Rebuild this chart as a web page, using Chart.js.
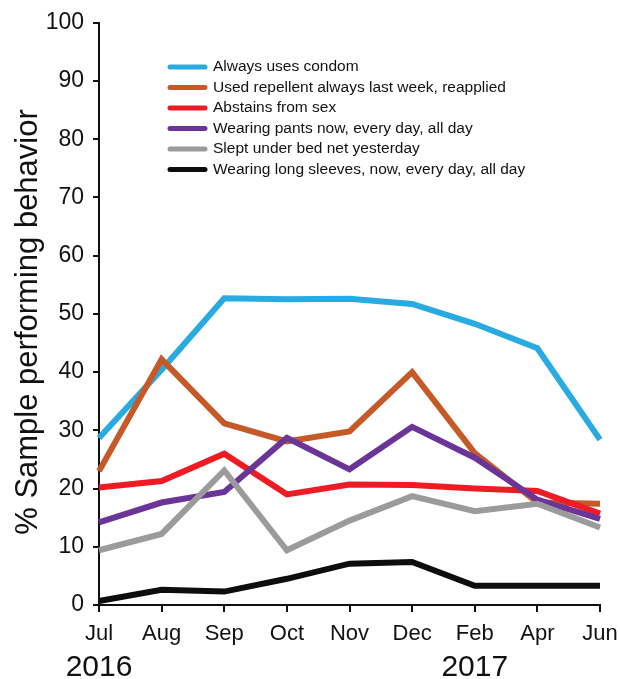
<!DOCTYPE html>
<html>
<head>
<meta charset="utf-8">
<script src="https://cdn.jsdelivr.net/npm/chart.js@4"></script>
<style>
    body { margin: 0; background: #fff; }
    #wrap { width: 620px; height: 679px; position: relative; }
</style>
</head>
<body>
<div id="wrap"><canvas id="behaviorChart"></canvas></div>
<script>
const months = ["Jul", "Aug", "Sep", "Oct", "Nov", "Dec", "Feb", "Apr", "Jun"];
const yearLabels = ["2016", "2017"];
const yearAt = ["Jul", "Feb"];
const yTitle = "% Sample performing behavior";

const seriesNames = [
    "Always uses condom",
    "Used repellent always last week, reapplied",
    "Abstains from sex",
    "Wearing pants now, every day, all day",
    "Slept under bed net yesterday",
    "Wearing long sleeves, now, every day, all day"
];
const condom    = [28.7, 40.4, 52.7, 52.5, 52.6, 51.7, 48.3, 44.1, 28.4];
const repellent = [23.0, 42.2, 31.2, 28.1, 29.8, 40.0, 26.1, 17.6, 17.4];
const abstains  = [20.2, 21.3, 26.0, 19.0, 20.7, 20.6, 20.0, 19.6, 15.7];
const pants     = [14.2, 17.6, 19.4, 28.7, 23.3, 30.6, 25.3, 18.1, 14.8];
const bedNet    = [9.4, 12.2, 23.1, 9.4, 14.5, 18.7, 16.1, 17.4, 13.3];
const sleeves   = [0.7, 2.6, 2.3, 4.5, 7.1, 7.4, 3.3, 3.3, 3.3];
const seriesColors = ["#29ABE2", "#C55A28", "#ED1C24", "#6A3597", "#9B9B9B", "#0D0D0D"];

const FONT = "'Liberation Sans', Arial, sans-serif";
const allSeries = [condom, repellent, abstains, pants, bedNet, sleeves];

// draw later series on top, like the original
const datasets = allSeries.map(function (values, i) {
    return {
        label: seriesNames[i],
        data: values,
        borderColor: seriesColors[i],
        backgroundColor: seriesColors[i],
        borderWidth: 6,
        pointRadius: 0,
        tension: 0,
        fill: false,
        order: allSeries.length - i
    };
});

const extras = {
    id: "extras",
    afterDraw(chart) {
        const ctx = chart.ctx;
        const x = chart.scales.x;
        ctx.save();

        // y axis title, a bit below the middle as in the source
        ctx.fillStyle = "#111";
        ctx.font = "31px " + FONT;
        ctx.textAlign = "center";
        ctx.textBaseline = "middle";
        ctx.save();
        ctx.translate(28, 322);
        ctx.rotate(-Math.PI / 2);
        ctx.fillText(yTitle, 0, 0);
        ctx.restore();

        // year labels under the month ticks
        ctx.font = "30px " + FONT;
        ctx.textBaseline = "alphabetic";
        yearLabels.forEach(function (txt, i) {
            const px = x.getPixelForValue(months.indexOf(yearAt[i]));
            ctx.fillText(txt, px, 676);
        });

        // legend inside the plot
        ctx.font = "15.5px " + FONT;
        ctx.textAlign = "left";
        ctx.textBaseline = "middle";
        ctx.lineCap = "round";
        seriesNames.forEach(function (name, i) {
            const y = 67 + i * 20.5;
            ctx.strokeStyle = seriesColors[i];
            ctx.lineWidth = 5;
            ctx.beginPath();
            ctx.moveTo(170, y);
            ctx.lineTo(205, y);
            ctx.stroke();
            ctx.fillStyle = "#111";
            ctx.fillText(name, 213, y);
        });
        ctx.restore();
    }
};

new Chart(document.getElementById("behaviorChart").getContext("2d"), {
    type: "line",
    data: { labels: months, datasets: datasets },
    options: {
        responsive: true,
        maintainAspectRatio: false,
        animation: false,
        layout: { padding: { top: 19, right: 20, left: 0, bottom: 0 } },
        plugins: {
            legend: { display: false },
            tooltip: { enabled: false }
        },
        scales: {
            x: {
                offset: false,
                grid: { drawOnChartArea: false, drawTicks: true, tickLength: 7, color: "#111", lineWidth: 2 },
                border: { display: true, color: "#111", width: 2 },
                ticks: { color: "#111", font: { family: FONT, size: 22 }, padding: 9, maxRotation: 0, autoSkip: false },
                afterFit(scale) {
                    scale.height = 74;
                    scale.paddingLeft = 0;
                    scale.paddingRight = 0;
                }
            },
            y: {
                min: 0,
                max: 100,
                grid: { drawOnChartArea: false, drawTicks: true, tickLength: 6, color: "#111", lineWidth: 2 },
                border: { display: true, color: "#111", width: 2 },
                ticks: { stepSize: 10, color: "#111", font: { family: FONT, size: 23 }, padding: 9 },
                afterFit(scale) { scale.width = 99; }
            }
        }
    },
    plugins: [extras]
});
</script>
</body>
</html>
